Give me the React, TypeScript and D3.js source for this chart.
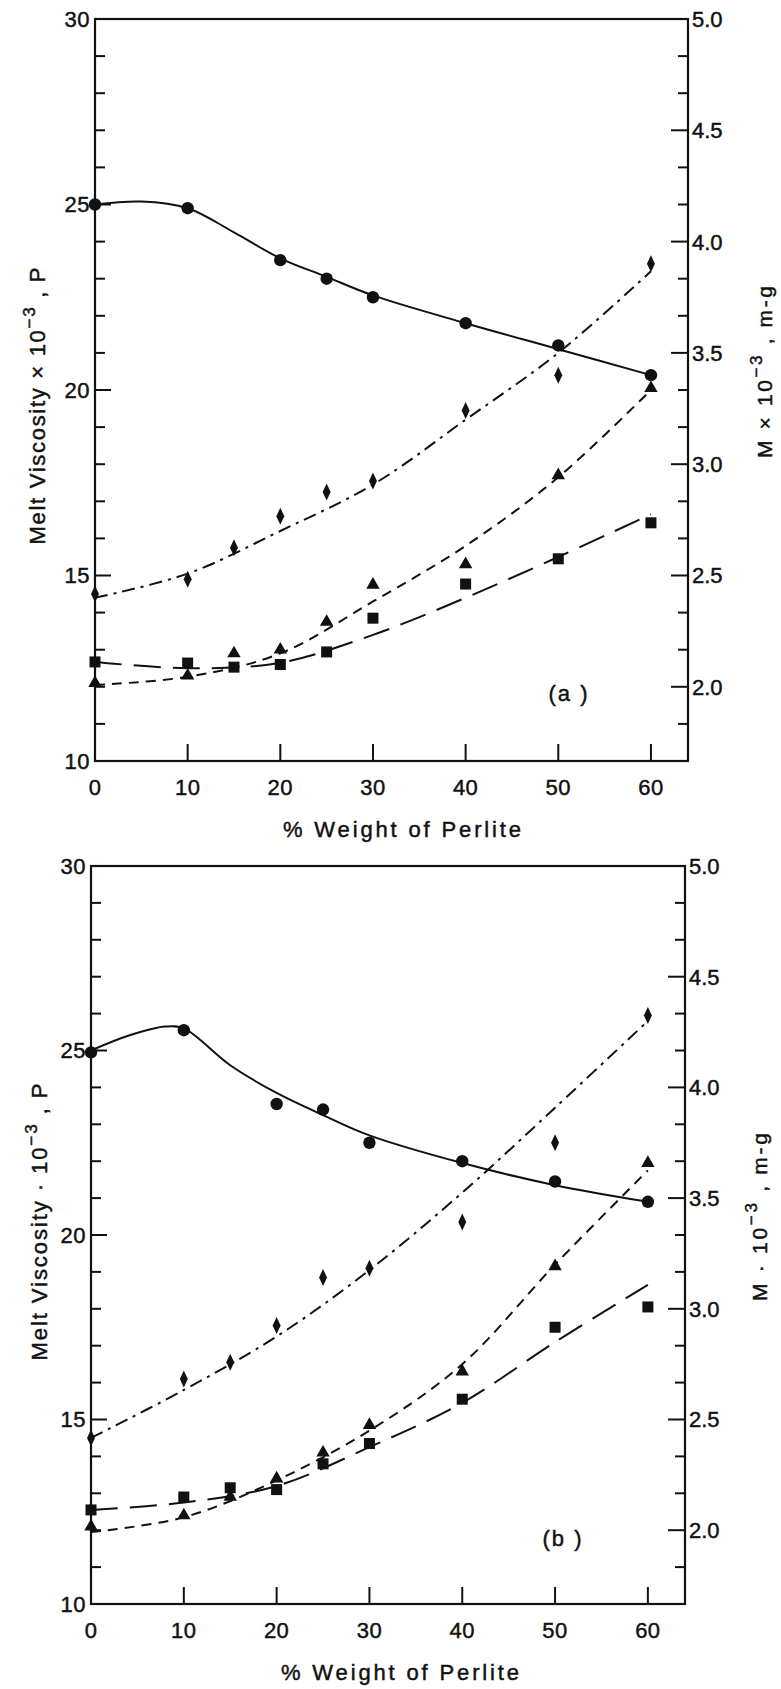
import React from 'react';
import * as d3 from 'd3';

// Perlite loading (% weight) at which samples were measured
const perliteLevels = [0, 10, 15, 20, 25, 30, 40, 50, 60];
const viscosityLevels = [0, 10, 20, 25, 30, 40, 50, 60];
// Knot positions of the fitted curves
const fitLevels = [0, 10, 20, 30, 40, 50, 60];
const viscosityFitLevelsA = [0, 5, 10, 15, 20, 25, 30, 40, 50, 60];
const viscosityFitLevelsB = [0, 4, 8, 10, 15, 20, 25, 30, 40, 50, 60];

// ---- Panel (a) ----
const viscosityA = [25.0, 24.9, 23.5, 23.0, 22.5, 21.8, 21.2, 20.4];
const diamondA = [14.5, 14.9, 15.75, 16.6, 17.25, 17.55, 19.45, 20.4, 23.4];
const triangleA = [12.1, 12.3, 12.9, 13.0, 13.75, 14.75, 15.3, 17.7, 20.05];
const squareA = [12.67, 12.64, 12.53, 12.6, 12.94, 13.85, 14.77, 15.45, 16.42];

const viscosityFitA = [25.0, 25.08, 24.9, 24.25, 23.55, 23.05, 22.55, 21.8, 21.1, 20.4];
const diamondFitA = [14.4, 15.05, 16.2, 17.45, 19.2, 21.0, 23.2];
const triangleFitA = [12.05, 12.27, 12.9, 14.3, 15.8, 17.65, 20.0];
const squareFitA = [12.67, 12.5, 12.65, 13.4, 14.4, 15.5, 16.65];

// ---- Panel (b) ----
const viscosityB = [24.95, 25.55, 23.55, 23.4, 22.5, 22.0, 21.45, 20.9];
const diamondB = [14.5, 16.1, 16.55, 17.55, 18.85, 19.1, 20.35, 22.5, 25.95];
const triangleB = [12.1, 12.4, 12.9, 13.4, 14.1, 14.85, 16.3, 19.15, 21.95];
const squareB = [12.55, 12.9, 13.15, 13.1, 13.8, 14.35, 15.55, 17.5, 18.05];

const viscosityFitB = [25.0, 25.4, 25.65, 25.6, 24.6, 23.85, 23.25, 22.7, 21.95, 21.35, 20.9];
const diamondFitB = [14.5, 15.8, 17.25, 19.05, 21.15, 23.45, 25.8];
const triangleFitB = [11.95, 12.35, 13.35, 14.7, 16.5, 19.2, 21.75];
const squareFitB = [12.55, 12.75, 13.2, 14.25, 15.45, 17.1, 18.65];

// Axis ticks
const xTickLabels = [0, 10, 20, 30, 40, 50, 60];
const leftMajorTicks = [10, 15, 20, 25, 30];
const rightMajorTicks = [2.0, 2.5, 3.0, 3.5, 4.0, 4.5, 5.0];

const FONT = "'Liberation Sans', Arial, sans-serif";
const INK = '#111';
// slight outline to give lettering the weight of pen-drawn text
const textInk = { fill: INK, stroke: INK, strokeWidth: 0.45 };

type Panel = {
  tag: string;
  left: number; right: number; top: number; bottom: number;
  viscosity: number[]; diamond: number[]; triangle: number[]; square: number[];
  viscosityFitLevels: number[];
  viscosityFit: number[]; diamondFit: number[]; triangleFit: number[]; squareFit: number[];
  tagX: number; tagY: number;
  yTitleX: number; yTitleY: number;
  rTitleX: number; rTitleY: number; rTitleLen: number;
  xTitleX: number;
  mult: string;
};

const panels: Panel[] = [
  {
    tag: '(a )', left: 95, right: 688, top: 19, bottom: 761,
    viscosity: viscosityA, diamond: diamondA, triangle: triangleA, square: squareA,
    viscosityFitLevels: viscosityFitLevelsA,
    viscosityFit: viscosityFitA, diamondFit: diamondFitA, triangleFit: triangleFitA, squareFit: squareFitA,
    tagX: 569, tagY: 701,
    yTitleX: 45, yTitleY: 406,
    rTitleX: 772, rTitleY: 372, rTitleLen: 172,
    xTitleX: 402,
    mult: '×',
  },
  {
    tag: '(b )', left: 91, right: 685, top: 866, bottom: 1604,
    viscosity: viscosityB, diamond: diamondB, triangle: triangleB, square: squareB,
    viscosityFitLevels: viscosityFitLevelsB,
    viscosityFit: viscosityFitB, diamondFit: diamondFitB, triangleFit: triangleFitB, squareFit: squareFitB,
    tagX: 563, tagY: 1546,
    yTitleX: 47, yTitleY: 1222,
    rTitleX: 767, rTitleY: 1217, rTitleLen: 168,
    xTitleX: 400,
    mult: '·',
  },
];

function PanelChart({ p }: { p: Panel }) {
  const x = d3.scaleLinear().domain([0, 64]).range([p.left, p.right]);
  const y = d3.scaleLinear().domain([10, 30]).range([p.bottom, p.top]);
  const yR = d3.scaleLinear().domain([10 / 6, 5]).range([p.bottom, p.top]);

  const line = d3
    .line<[number, number]>()
    .x((d) => x(d[0]))
    .y((d) => y(d[1]))
    .curve(d3.curveCatmullRom.alpha(0.5));

  const pairs = (xs: number[], ys: number[]) => xs.map((v, i) => [v, ys[i]] as [number, number]);

  const leftMinor = d3.range(11, 30).filter((v) => !leftMajorTicks.includes(v));
  const rightMinor = d3
    .range(11, 30)
    .map((v) => v / 6)
    .filter((v) => !rightMajorTicks.some((m) => Math.abs(m - v) < 1e-6));

  const sq = 11;
  const tri = d3.symbol(d3.symbolTriangle, 78)() as string;

  return (
    <g>
      {/* fitted curves */}
      <path d={line(pairs(p.viscosityFitLevels, p.viscosityFit)) || ''} fill="none" stroke={INK} strokeWidth={2} />
      <path d={line(pairs(fitLevels, p.diamondFit)) || ''} fill="none" stroke={INK} strokeWidth={2} strokeDasharray="13,6,3,6" />
      <path d={line(pairs(fitLevels, p.triangleFit)) || ''} fill="none" stroke={INK} strokeWidth={2} strokeDasharray="10,7" />
      <path d={line(pairs(fitLevels, p.squareFit)) || ''} fill="none" stroke={INK} strokeWidth={2} strokeDasharray="27,12" />

      {/* frame */}
      <rect x={p.left} y={p.top} width={p.right - p.left} height={p.bottom - p.top} fill="none" stroke={INK} strokeWidth={2.2} />

      {/* left ticks */}
      {leftMajorTicks.map((v) => (
        <g key={'lm' + v}>
          <line x1={p.left} x2={p.left + 16} y1={y(v)} y2={y(v)} stroke={INK} strokeWidth={2} />
          <text x={p.left - 5} y={y(v)} dy="0.36em" textAnchor="end" fontSize={22} fontFamily={FONT} {...textInk} letterSpacing={0.5}>
            {v}
          </text>
        </g>
      ))}
      {leftMinor.map((v) => (
        <line key={'ln' + v} x1={p.left} x2={p.left + 10} y1={y(v)} y2={y(v)} stroke={INK} strokeWidth={2} />
      ))}

      {/* right ticks */}
      {rightMajorTicks.map((v) => (
        <g key={'rm' + v}>
          <line x1={p.right - 17} x2={p.right} y1={yR(v)} y2={yR(v)} stroke={INK} strokeWidth={2} />
          <text x={p.right + 4} y={yR(v)} dy="0.36em" textAnchor="start" fontSize={22} fontFamily={FONT} {...textInk}>
            {v.toFixed(1)}
          </text>
        </g>
      ))}
      {rightMinor.map((v, i) => (
        <line key={'rn' + i} x1={p.right - 10} x2={p.right} y1={yR(v)} y2={yR(v)} stroke={INK} strokeWidth={2} />
      ))}

      {/* x ticks */}
      {xTickLabels.map((v) => (
        <g key={'x' + v}>
          {v > 0 && <line x1={x(v)} x2={x(v)} y1={p.bottom} y2={p.bottom - 17} stroke={INK} strokeWidth={2} />}
          <text x={x(v)} y={p.bottom + 34} textAnchor="middle" fontSize={22} fontFamily={FONT} {...textInk} letterSpacing={0.5}>
            {v}
          </text>
        </g>
      ))}

      {/* markers */}
      {viscosityLevels.map((lv, i) => (
        <circle key={'c' + i} cx={x(lv)} cy={y(p.viscosity[i])} r={6.2} fill={INK} />
      ))}
      {perliteLevels.map((lv, i) => (
        <path
          key={'d' + i}
          d={`M${x(lv)},${y(p.diamond[i]) - 8.5}L${x(lv) + 4},${y(p.diamond[i])}L${x(lv)},${y(p.diamond[i]) + 8.5}L${x(lv) - 4},${y(p.diamond[i])}Z`}
          fill={INK}
        />
      ))}
      {perliteLevels.map((lv, i) => (
        <path key={'t' + i} d={tri} transform={`translate(${x(lv)},${y(p.triangle[i])})`} fill={INK} />
      ))}
      {perliteLevels.map((lv, i) => (
        <rect key={'s' + i} x={x(lv) - sq / 2} y={y(p.square[i]) - sq / 2} width={sq} height={sq} fill={INK} />
      ))}

      {/* panel tag */}
      <text x={p.tagX} y={p.tagY} textAnchor="middle" fontSize={22} fontFamily={FONT} {...textInk} letterSpacing={2}>
        {p.tag}
      </text>

      {/* axis titles */}
      <text x={p.xTitleX} y={p.bottom + 76} textAnchor="middle" fontSize={22} fontFamily={FONT} {...textInk} textLength={238} lengthAdjust="spacing">
        % Weight of Perlite
      </text>
      <text
        transform={`translate(${p.yTitleX},${p.yTitleY}) rotate(-90)`}
        textAnchor="middle"
        fontSize={22}
        fontFamily={FONT}
        {...textInk}
        textLength={277}
        lengthAdjust="spacing"
      >
        {`Melt Viscosity ${p.mult} 10`}
        <tspan dy={-10} fontSize={17}>−3</tspan>
        <tspan dy={10}>{' , P'}</tspan>
      </text>
      <text
        transform={`translate(${p.rTitleX},${p.rTitleY}) rotate(-90)`}
        textAnchor="middle"
        fontSize={21}
        fontFamily={FONT}
        {...textInk}
        textLength={p.rTitleLen}
        lengthAdjust="spacing"
      >
        {`M ${p.mult} 10`}
        <tspan dy={-10} fontSize={17}>−3</tspan>
        <tspan dy={10}>{' , m-g'}</tspan>
      </text>
    </g>
  );
}

export default function App() {
  return (
    <svg
      width={781}
      height={1689}
      viewBox="0 0 781 1689"
      style={{ position: 'absolute', left: 0, top: 0, background: '#fff' }}
    >
      <rect width={781} height={1689} fill="#fff" />
      {panels.map((p) => (
        <PanelChart key={p.tag} p={p} />
      ))}
    </svg>
  );
}
